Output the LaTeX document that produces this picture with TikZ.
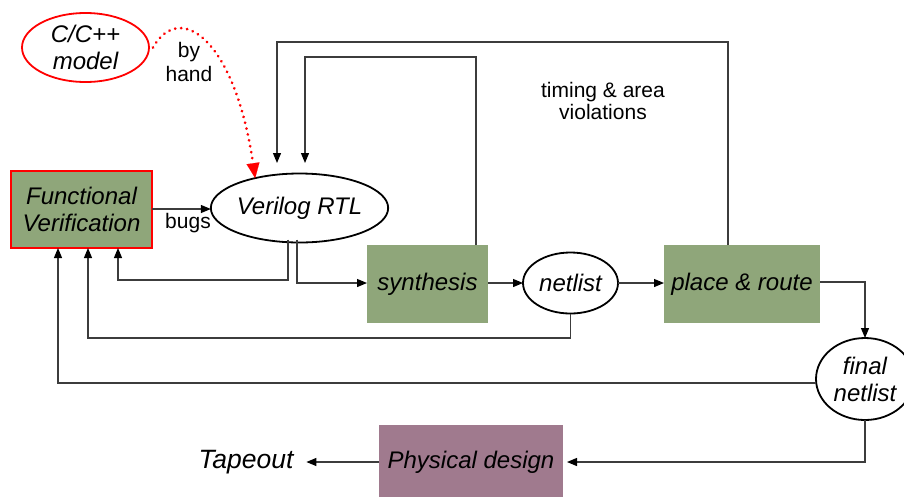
\documentclass[tikz,border=0pt]{standalone}
\usepackage{fontspec}
\setmainfont{Liberation Sans}
\usetikzlibrary{arrows.meta,shapes.geometric}
\definecolor{stagegreen}{RGB}{143,166,122}
\definecolor{stagemauve}{RGB}{160,122,142}
\definecolor{wire}{RGB}{60,60,60}
\begin{document}
\begin{tikzpicture}[x=1pt,y=-1pt,
  every node/.style={inner sep=0pt,outer sep=0pt},
  big/.style={font=\fontsize{24}{27}\selectfont\itshape,align=center},
  lbl/.style={font=\fontsize{21}{24}\selectfont,align=center},
  stage/.style={big,fill=stagegreen,minimum width=#1,minimum height=78},
  oval/.style={big,ellipse,draw=black,line width=1.8pt,fill=white},
  arr/.style={draw=wire,line width=1.2pt,-{Triangle[length=10pt,width=8pt,color=black,fill=black]}},
  handarr/.style={draw=red,line width=3pt,line cap=round,
    dash pattern=on 0.01pt off 6pt,
    -{Triangle[length=15pt,width=13pt,fill=red,line width=0.1pt]}}]
\useasboundingbox (0,0) rectangle (904,496);

% stages and data
\node[oval,draw=red,minimum width=127,minimum height=69] (cc) at (85.5,47.5) {C/C++\\model};
\node[big,fill=stagegreen,draw=red,line width=1.6pt,minimum width=141,minimum height=77] (fv) at (81.5,209.5) {Functional\\Verification};
\node[oval,minimum width=145,minimum height=69] (rtl) at (299.5,208) {Verilog RTL};
\node[stage=121] (syn) at (427.5,284) {synthesis};
\node[oval,minimum width=95,minimum height=61] (net) at (570.5,283) {netlist};
\node[stage=156] (pr) at (742,284) {place \& route};
\node[oval,minimum width=98,minimum height=82] (fn) at (865,379) {final\\netlist};
\node[big,fill=stagemauve,minimum width=184,minimum height=74] (pd) at (471,462) {Physical design};
\node[big,inner sep=3pt,font=\fontsize{26.5}{30}\selectfont\itshape] (tape) at (246,462) {Tapeout};

% labels
\node[lbl] (byhand) at (189,62) {by\\hand};
\node[lbl] (bugs) at (188,223) {bugs};
\node[lbl,font=\fontsize{21}{21.5}\selectfont] (viol) at (603,101) {timing \& area\\violations};

% feedback entry points above the RTL
\coordinate (in1) at (277,163);
\coordinate (in2) at (305,163);

% forward flow
\draw[arr] (fv.east |- 0,209) -- (rtl.west |- 0,209);
\draw[arr] ([xshift=-2.5pt,yshift=3]rtl.south) |- (syn.west |- 0,283);
\draw[arr] (syn.east |- 0,283) -- (net.west |- 0,283);
\draw[arr] (net.east |- 0,283) -- (pr.west |- 0,283);
\draw[arr] ([yshift=2]pr.east) -| (fn.north);
\draw[arr] (fn.south) |- ([xshift=4pt]pd.east);
\draw[arr] (pd.west) -- ([xshift=10pt]tape.east);

% timing and area loops
\draw[arr] ([xshift=-14pt]pr.north) |- (277,42) -- (in1);
\draw[arr] ([xshift=48.5pt]syn.north) |- (305,57) -- (in2);

% bug reports back to verification
\draw[arr] ([xshift=-11.5pt,yshift=3]rtl.south) -- (288,280) -| ([xshift=36.5pt]fv.south);
\draw[arr] (net.south) -- (570.5,338) -| ([xshift=6.5pt]fv.south);
\draw[arr] (fn.west |- 0,383) -| ([xshift=-23.5pt]fv.south);

% hand translation of the model
\draw[handarr] ([xshift=4pt]cc.east) .. controls (180,0) and (235,40) .. (rtl.146);
\end{tikzpicture}
\end{document}
